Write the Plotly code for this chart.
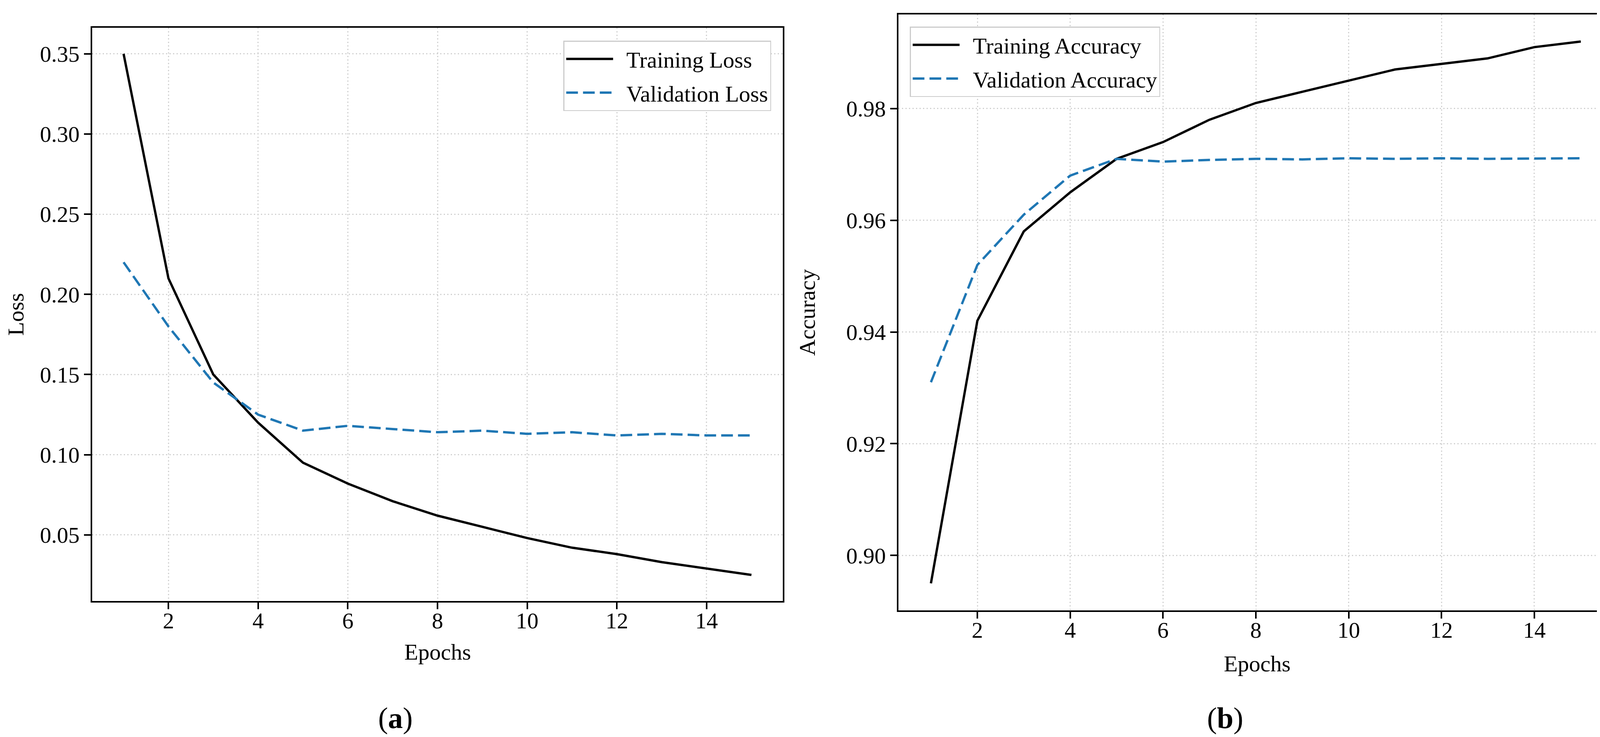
import plotly.graph_objects as go
from plotly.subplots import make_subplots

# data
epochs = list(range(1, 16))
train_loss = [0.350, 0.210, 0.150, 0.120, 0.095, 0.082, 0.071, 0.062, 0.055, 0.048, 0.042, 0.038, 0.033, 0.029, 0.025]
val_loss = [0.220, 0.180, 0.145, 0.125, 0.115, 0.118, 0.116, 0.114, 0.115, 0.113, 0.114, 0.112, 0.113, 0.112, 0.112]
train_acc = [0.895, 0.942, 0.958, 0.965, 0.971, 0.974, 0.978, 0.981, 0.983, 0.985, 0.987, 0.988, 0.989, 0.991, 0.992]
val_acc = [0.931, 0.952, 0.961, 0.968, 0.971, 0.9705, 0.9708, 0.971, 0.9709, 0.9711, 0.971, 0.9711, 0.971, 0.9711, 0.9711]

W, H = 4159, 1886
FONT = "Liberation Serif, Times New Roman, serif"
BLUE = "#1f77b4"
SP = "\u00a0\u00a0"  # small gap between legend line and text

fig = make_subplots(rows=1, cols=2)

# left panel - loss
fig.add_trace(go.Scatter(x=epochs, y=train_loss, mode="lines", name=SP + "Training Loss",
                         line=dict(color="black", width=6), legend="legend", legendgroup="a1"), row=1, col=1)
fig.add_trace(go.Scatter(x=epochs, y=val_loss, mode="lines", name=SP + "Validation Loss",
                         line=dict(color=BLUE, width=6, dash="30px,13px"), legend="legend", legendgroup="a2"), row=1, col=1)

# right panel - accuracy
fig.add_trace(go.Scatter(x=epochs, y=train_acc, mode="lines", name=SP + "Training Accuracy",
                         line=dict(color="black", width=6), legend="legend2", legendgroup="b1"), row=1, col=2)
fig.add_trace(go.Scatter(x=epochs, y=val_acc, mode="lines", name=SP + "Validation Accuracy",
                         line=dict(color=BLUE, width=6, dash="30px,13px"), legend="legend2", legendgroup="b2"), row=1, col=2)

axis_style = dict(
    showline=True, linecolor="black", linewidth=3.5, mirror=True,
    ticks="outside", ticklen=17, tickwidth=3.5, tickcolor="black",
    showgrid=True, gridcolor="#cfcfcf", gridwidth=2.5, griddash="3px,6px",
    zeroline=False, tickfont=dict(family=FONT, size=58, color="black"),
)
title_font = dict(family=FONT, size=58, color="black")

fig.update_xaxes(**axis_style, tick0=0, dtick=2, range=[0.3, 15.7], ticklabelstandoff=-20)
fig.update_xaxes(domain=[228 / W, 1996 / W], row=1, col=1)
fig.update_xaxes(domain=[2292 / W, 4122 / W], row=1, col=2)

fig.update_yaxes(**axis_style)
fig.update_yaxes(domain=[1 - 1530 / H, 1 - 63 / H], range=[0.00875, 0.36625], dtick=0.05, tick0=0,
                 tickformat=".2f", title=dict(text="Loss", standoff=26, font=title_font), row=1, col=1)
fig.update_yaxes(domain=[1 - 1554 / H, 1 - 29 / H], range=[0.89015, 0.99685], dtick=0.02, tick0=0,
                 tickformat=".2f", title=dict(text="Accuracy", standoff=62, font=title_font), row=1, col=2)

legend_style = dict(bgcolor="white", bordercolor="#cccccc", borderwidth=2.5,
                    font=dict(family=FONT, size=58, color="black"),
                    itemwidth=120, tracegroupgap=8)

# x titles and panel labels as paper annotations
label_font = dict(family=FONT, size=76, color="black")
notes = [
    dict(text="Epochs", x=1112 / W, y=1 - 1660 / H, font=title_font),
    dict(text="Epochs", x=3210 / W, y=1 - 1690 / H, font=title_font),
    dict(text="(<b>a</b>)", x=1004 / W, y=1 - 1829 / H, font=label_font),
    dict(text="(<b>b</b>)", x=3128 / W, y=1 - 1829 / H, font=label_font),
]
for n in notes:
    n.update(xref="paper", yref="paper", showarrow=False, xanchor="center", yanchor="middle")

fig.update_layout(
    width=W, height=H, autosize=False,
    margin=dict(l=0, r=0, t=0, b=0),
    paper_bgcolor="white", plot_bgcolor="white",
    font=dict(family=FONT, size=58, color="black"),
    showlegend=True,
    legend=dict(**legend_style, x=1966 / W, y=1 - 96 / H, xanchor="right", yanchor="top"),
    legend2=dict(**legend_style, x=2321 / W, y=1 - 60 / H, xanchor="left", yanchor="top"),
    annotations=notes,
)

fig.write_html("out.html")
